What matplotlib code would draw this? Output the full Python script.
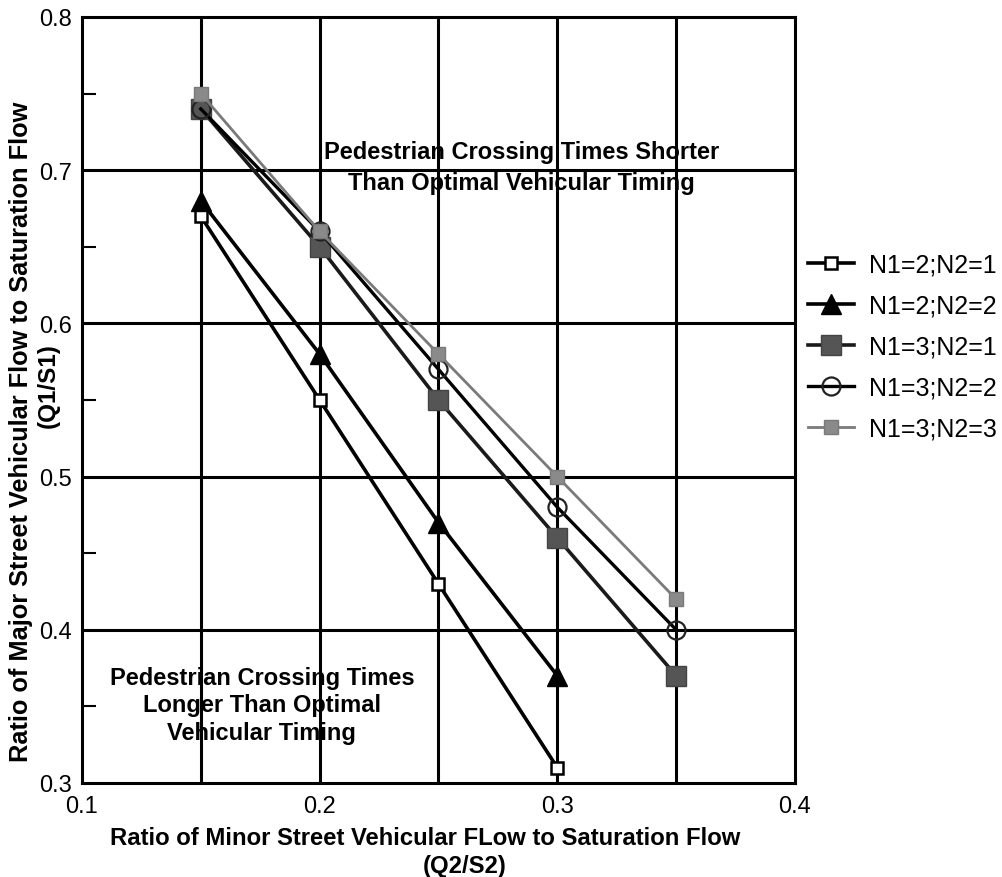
import matplotlib
matplotlib.use("Agg")
import matplotlib.pyplot as plt
from matplotlib import font_manager

# Flow ratio data: minor street (Q2/S2) vs. major street (Q1/S1) thresholds
x_short = [0.15, 0.20, 0.25, 0.30]
x_long = [0.15, 0.20, 0.25, 0.30, 0.35]

n21 = [0.67, 0.55, 0.43, 0.31]
n22 = [0.68, 0.58, 0.47, 0.37]
n31 = [0.74, 0.65, 0.55, 0.46, 0.37]
n32 = [0.74, 0.66, 0.57, 0.48, 0.40]
n33 = [0.75, 0.66, 0.58, 0.50, 0.42]

labels = ["N1=2;N2=1", "N1=2;N2=2", "N1=3;N2=1", "N1=3;N2=2", "N1=3;N2=3"]

x_ticks = [0.1, 0.2, 0.3, 0.4]
y_ticks = [0.3, 0.4, 0.5, 0.6, 0.7, 0.8]

names = {f.name for f in font_manager.fontManager.ttflist}
narrow = "Liberation Sans Narrow" if "Liberation Sans Narrow" in names else "Liberation Sans"
plt.rcParams["font.family"] = ["Liberation Sans", "DejaVu Sans"]

fig = plt.figure(figsize=(10.02, 8.78), dpi=100)
ax = fig.add_axes([0.0818, 0.1071, 0.7116, 0.8724])

ax.set_xlim(0.1, 0.4)
ax.set_ylim(0.3, 0.8)

# grid
for gx in [0.15, 0.2, 0.25, 0.3, 0.35]:
    ax.axvline(gx, color="black", lw=2.2, zorder=1)
for gy in [0.4, 0.5, 0.6, 0.7]:
    ax.axhline(gy, color="black", lw=2.2, zorder=1)

ax.plot(x_short, n21, color="black", lw=2.6, marker="s", ms=9, mfc="white",
        mec="black", mew=1.8, label=labels[0], zorder=3)
ax.plot(x_short, n22, color="black", lw=2.6, marker="^", ms=14, mfc="black",
        mec="black", label=labels[1], zorder=3)
ax.plot(x_long, n31, color="#1a1a1a", lw=2.6, marker="s", ms=14, mfc="#555555",
        mec="#444444", mew=1.0, label=labels[2], zorder=3)
ax.plot(x_long, n32, color="black", lw=2.4, marker="o", ms=13, mfc="none",
        mec="#222222", mew=1.6, label=labels[3], zorder=3)
ax.plot(x_long, n33, color="#7a7a7a", lw=2.0, marker="s", ms=10, mfc="#8a8a8a",
        mec="#7a7a7a", mew=1.0, label=labels[4], zorder=4)

ax.set_xticks(x_ticks)
ax.set_yticks(y_ticks)
ax.set_xticklabels([f"{v:.1f}" for v in x_ticks], fontsize=17)
ax.set_yticklabels([f"{v:.1f}" for v in y_ticks], fontsize=17)
ax.set_yticks([0.35, 0.45, 0.55, 0.65, 0.75], minor=True)
ax.tick_params(axis="both", which="major", length=0)
ax.tick_params(axis="y", which="major", pad=7.5)
ax.tick_params(axis="x", which="major", pad=9)
ax.tick_params(axis="y", which="minor", direction="in", length=10, width=1.5)
for s in ax.spines.values():
    s.set_linewidth(2.2)

fig.text(0.424, 0.0455, "Ratio of Minor Street Vehicular FLow to Saturation Flow",
         ha="center", va="center", fontsize=17.2, fontweight="bold", family=narrow)
fig.text(0.464, 0.0135, "(Q2/S2)", ha="center", va="center", fontsize=17.2,
         fontweight="bold", family=narrow)
fig.text(0.021, 0.508, "Ratio of Major Street Vehicular Flow to Saturation Flow",
         ha="center", va="center", rotation=90, fontsize=18.3, fontweight="bold",
         family=narrow)
fig.text(0.048, 0.561, "(Q1/S1)", ha="center", va="center", rotation=90,
         fontsize=17.5, fontweight="bold", family=narrow)

ax.text(0.285, 0.702, "Pedestrian Crossing Times Shorter\nThan Optimal Vehicular Timing",
        ha="center", va="center", fontsize=17, fontweight="bold", linespacing=1.42,
        zorder=5)
ax.text(0.1757, 0.351, "Pedestrian Crossing Times\nLonger Than Optimal\nVehicular Timing",
        ha="center", va="center", fontsize=17, fontweight="bold", linespacing=1.25,
        zorder=5)

fig.legend(loc="upper left", bbox_to_anchor=(0.806, 0.7115), frameon=False,
           fontsize=18, handlelength=1.85, handletextpad=0.6, labelspacing=0.68,
           borderaxespad=0, borderpad=0)

fig.savefig("out.png", dpi=100)
